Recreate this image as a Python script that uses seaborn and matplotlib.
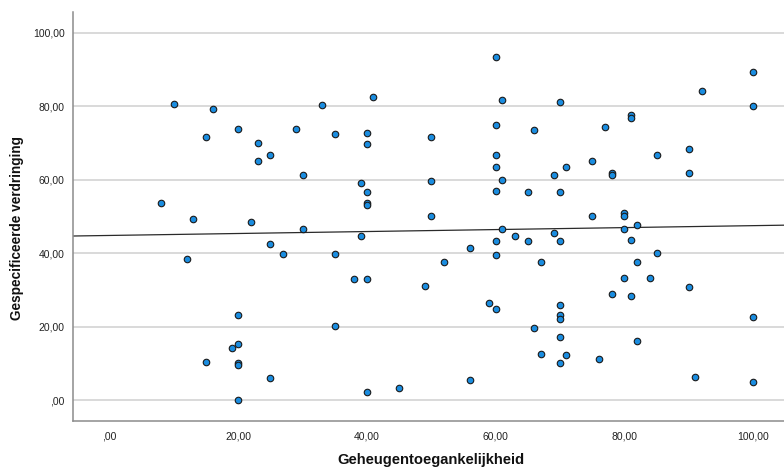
import numpy as np
import pandas as pd
import seaborn as sns
import matplotlib.pyplot as plt
from matplotlib.ticker import FuncFormatter

# Geheugentoegankelijkheid (x) en gespecificeerde verdringing (y)
toegankelijkheid = [
    10, 16, 15, 20, 23, 23, 25, 29, 30, 33, 35, 40, 40, 41, 39, 40, 40, 40,
    50, 50, 50, 8, 13, 22, 60, 61, 70, 100, 92, 100, 81, 81, 77, 60, 66, 60,
    60, 61, 60, 65, 70, 69, 71, 75, 78, 78, 85, 90, 90, 75, 80, 80, 30, 39,
    25, 27, 35, 12, 38, 40, 49, 20, 35, 20, 19, 15, 20, 20, 25, 40, 45, 20,
    61, 80, 82, 69, 63, 60, 65, 70, 81, 56, 60, 85, 52, 67, 82, 80, 84, 90,
    78, 81, 59, 60, 70, 70, 70, 100, 66, 70, 82, 67, 71, 76, 70, 56, 91, 100,
]
verdringing = [
    80.7, 79.1, 71.7, 73.7, 70.0, 65.0, 66.8, 73.7, 61.4, 80.4, 72.4, 72.7,
    69.8, 82.4, 59.0, 56.7, 53.6, 53.2, 71.7, 59.7, 50.1, 53.7, 49.4, 48.6,
    93.4, 81.7, 81.1, 89.4, 84.1, 80.0, 77.7, 76.8, 74.4, 75.0, 73.5, 66.8,
    63.4, 60.0, 57.0, 56.7, 56.7, 61.4, 63.4, 65.0, 61.8, 61.4, 66.8, 68.4,
    61.8, 50.1, 50.8, 50.1, 46.7, 44.6, 42.4, 39.7, 39.7, 38.3, 32.9, 32.9,
    31.0, 23.2, 20.2, 15.2, 14.3, 10.3, 10.0, 9.5, 6.0, 2.3, 3.3, 0.0,
    46.7, 46.7, 47.7, 45.6, 44.6, 43.3, 43.3, 43.3, 43.6, 41.3, 39.6, 40.0,
    37.6, 37.6, 37.6, 33.3, 33.3, 30.7, 29.0, 28.3, 26.3, 24.9, 25.9, 23.3,
    22.0, 22.7, 19.6, 17.2, 16.0, 12.6, 12.2, 11.2, 10.0, 5.6, 6.3, 4.9,
]
ticks = [0, 20, 40, 60, 80, 100]

df = pd.DataFrame({"Geheugentoegankelijkheid": toegankelijkheid,
                   "Gespecificeerde verdringing": verdringing})

sns.set_style("white")
plt.rcParams['font.family'] = ['Liberation Sans', 'DejaVu Sans']


def spss_fmt(v, pos):
    s = f"{v:.2f}".replace('.', ',')
    return s[1:] if s.startswith('0') else s


fig = plt.figure(figsize=(7.84, 4.69), dpi=100)
ax = fig.add_axes([0.093, 0.103, 0.907, 0.872])
ax.set_xlim(-5.7, 104.8)
ax.set_ylim(-5.6, 105.7)

sns.regplot(data=df, x="Geheugentoegankelijkheid", y="Gespecificeerde verdringing",
            scatter=False, ci=None, truncate=False, ax=ax,
            line_kws={'color': '#2a2a2a', 'linewidth': 0.9, 'zorder': 2})
sns.scatterplot(data=df, x="Geheugentoegankelijkheid", y="Gespecificeerde verdringing",
                ax=ax, s=22, color='#1a8de0', edgecolor='#1a1a1a', linewidth=0.8,
                zorder=3)

ax.set_xticks(ticks)
ax.set_yticks(ticks)
ax.xaxis.set_major_formatter(FuncFormatter(spss_fmt))
ax.yaxis.set_major_formatter(FuncFormatter(spss_fmt))
ax.tick_params(axis='both', length=0, labelsize=7.5, labelcolor='#222222')
ax.tick_params(axis='x', pad=8)
ax.tick_params(axis='y', pad=6)
ax.yaxis.grid(True, color='#cfcfcf', linewidth=1.1)
ax.xaxis.grid(False)
ax.set_axisbelow(True)

for side in ['top', 'right']:
    ax.spines[side].set_visible(False)
for side in ['left', 'bottom']:
    ax.spines[side].set_color('#8c8c8c')
    ax.spines[side].set_linewidth(1.1)

ax.set_xlabel("Geheugentoegankelijkheid", fontsize=10.6, fontweight='bold', color='#111111')
ax.set_ylabel("Gespecificeerde verdringing", fontsize=9.8, fontweight='bold', color='#111111')
ax.xaxis.set_label_coords(0.5035, -0.078)
ax.yaxis.set_label_coords(-0.069, 0.471)

fig.savefig("out.png", dpi=100)
